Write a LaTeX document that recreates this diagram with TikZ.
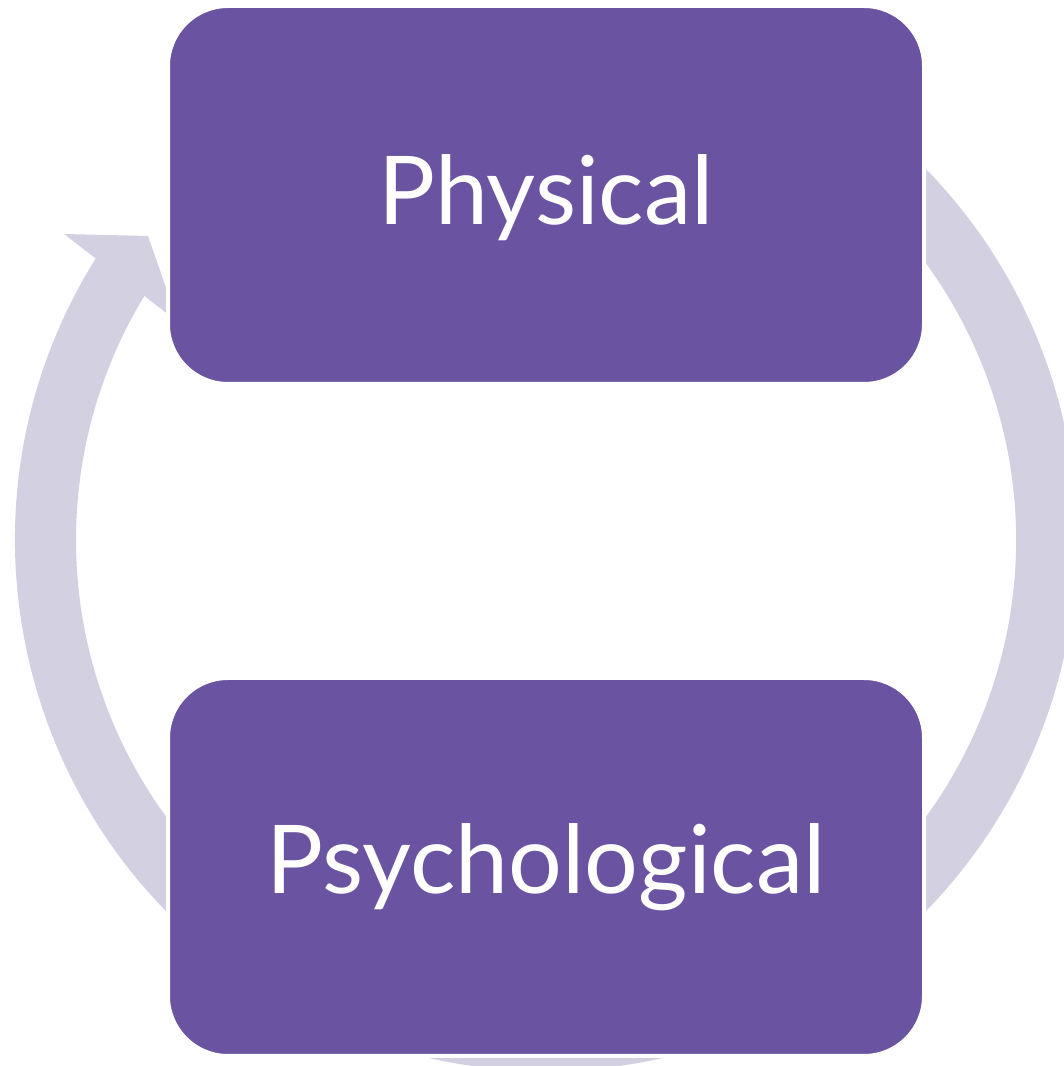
\documentclass[tikz,border=0pt]{standalone}
\usepackage{fontspec}
\setmainfont{Lato}
\usetikzlibrary{calc}
\definecolor{boxpurple}{RGB}{106,83,161}
\definecolor{ringc}{RGB}{211,209,225}
\tikzset{
  box/.style={fill=boxpurple, draw=white, line width=4pt, rounded corners=60pt,
    minimum width=756pt, minimum height=378pt, inner sep=0pt,
    text=white, font=\fontsize{95}{100}\selectfont,
    text height=78pt, text depth=22pt},
  ring/.style={fill=ringc}
}
\begin{document}
\begin{tikzpicture}[x=1pt,y=1pt]
\useasboundingbox (0,0) rectangle (1064,1066);
\coordinate (C) at (546,526);
% ring shaft
\fill[ring] ($(C)+(147:531pt)$) arc[start angle=147, end angle=430, radius=531pt]
  -- ($(C)+(430:470pt)$) arc[start angle=430, end angle=147, radius=470pt] -- cycle;
% arrow head
\coordinate (h1) at (64,832);
\coordinate (h2) at (148,830);
\coordinate (h3) at (178,744);
\fill[ring] (h1) -- (h2) -- (h3) -- cycle;
% boxes
\node[box, text height=82pt] (phys) at (546,871) {Physical};
\node[box, text height=76pt] (psych) at (546,199) {Psychological};
\end{tikzpicture}
\end{document}
